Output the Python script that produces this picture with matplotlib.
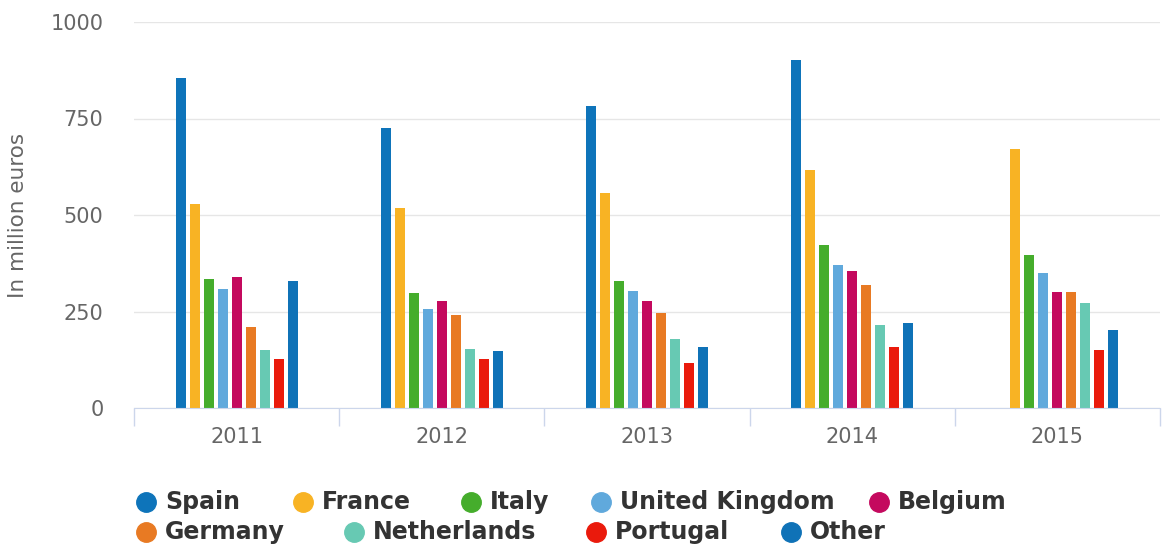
import numpy as np
import matplotlib.pyplot as plt
from matplotlib.lines import Line2D

years = ["2011", "2012", "2013", "2014", "2015"]
countries = ["Spain", "France", "Italy", "United Kingdom", "Belgium",
             "Germany", "Netherlands", "Portugal", "Other"]
colors = ["#0e74ba", "#f8b324", "#45ad2c", "#60a9dc", "#c4095e",
          "#e87a23", "#67c9b3", "#ea1a0c", "#0f72b7"]

spain = [855, 725, 782, 902, np.nan]
france = [528, 517, 558, 616, 672]
italy = [334, 298, 329, 423, 396]
uk = [308, 256, 303, 370, 349]
belgium = [340, 277, 277, 355, 301]
germany = [209, 240, 245, 319, 301]
netherlands = [151, 152, 178, 215, 271]
portugal = [126, 126, 116, 157, 151]
other = [329, 147, 157, 219, 203]

series = [spain, france, italy, uk, belgium, germany, netherlands, portugal, other]

fig = plt.figure(figsize=(11.62, 5.47), dpi=100)
ax = fig.add_axes([134/1162, 1-408/547, (1160-134)/1162, (408-22)/547])

x = np.arange(len(years))
pitch = 14/205.
width = 10/205.
for j, (vals, c) in enumerate(zip(series, colors)):
	ax.bar(x + (j-4)*pitch, vals, width=width, color=c, zorder=3)

ax.set_xlim(-0.5, len(years)-0.5)
ax.set_ylim(0, 1000)
ax.set_yticks([0, 250, 500, 750, 1000])
ax.set_xticks(x)
ax.set_xticklabels(years)
ax.set_xticks(np.arange(-0.5, len(years), 1), minor=True)

ax.grid(axis="y", color="#e6e6e6", lw=1, zorder=0)
for s in ["top", "right", "left"]:
	ax.spines[s].set_visible(False)
ax.spines["bottom"].set_color("#ccd6eb")
ax.spines["bottom"].set_zorder(4)

ax.tick_params(axis="y", length=0, pad=22, labelsize=15, labelcolor="#666666")
ax.tick_params(axis="x", which="major", length=0, pad=14, labelsize=15, labelcolor="#666666")
ax.tick_params(axis="x", which="minor", length=13, color="#ccd6eb", width=1)

fig.text(18/1162, 1-215/547, "In million euros", rotation=90, ha="center", va="center",
	fontsize=15.5, color="#666666")

# legend, laid out by hand like the original (two rows, uneven spacing)
rows = [
	[(0, 165), (1, 322), (2, 490), (3, 620), (4, 898)],
	[(5, 165), (6, 373), (7, 615), (8, 810)],
]
rowy = [502, 532]
for r, items in enumerate(rows):
	yy = 1 - rowy[r]/547.
	for idx, tx in items:
		fig.add_artist(Line2D([(tx-19)/1162.], [yy], marker="o", markersize=14,
			color=colors[idx], linestyle="none"))
		fig.text(tx/1162., yy, countries[idx], ha="left", va="center",
			fontsize=17, fontweight="bold", color="#333333")

fig.savefig("out.png", dpi=100)
